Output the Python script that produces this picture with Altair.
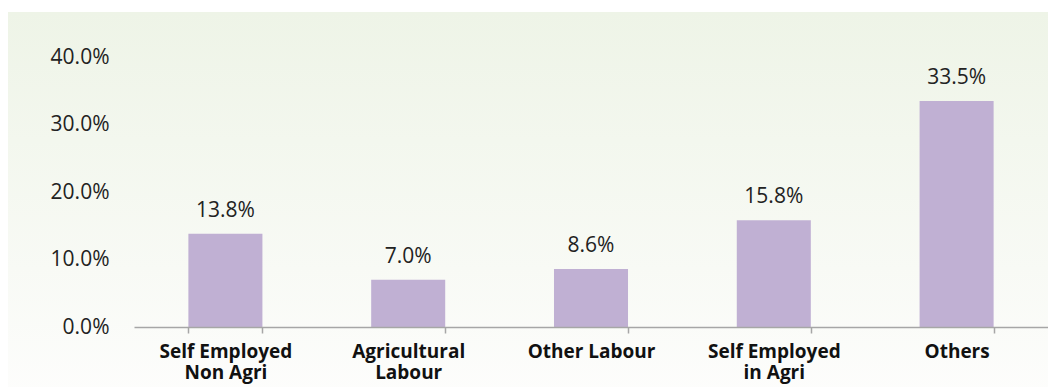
import altair as alt
import pandas as pd

categories = ["Self Employed\nNon Agri", "Agricultural\nLabour", "Other Labour", "Self Employed\nin Agri", "Others"]
shares = [13.8, 7.0, 8.6, 15.8, 33.5]
y_ticks = [0, 10, 20, 30, 40]

df = pd.DataFrame({"category": categories, "share": shares})
df["label"] = [f"{v:.1f}%" for v in shares]

FONT = "Open Sans"
W, H = 914, 270

bg = alt.Chart(pd.DataFrame({"a": [0]})).mark_rect(
    clip=False,
    color=alt.Gradient(
        gradient="linear", x1=0, y1=0, x2=0, y2=1,
        stops=[alt.GradientStop(color="#eef4e7", offset=0),
               alt.GradientStop(color="#fdfdfc", offset=1)],
    ),
).encode(x=alt.value(-127), x2=alt.value(W + 2), y=alt.value(-45), y2=alt.value(H + 70))

x_enc = alt.X("category:N", sort=categories, title=None,
              scale=alt.Scale(paddingInner=0.595, paddingOuter=0.2975),
              axis=alt.Axis(labelAngle=0, labelFont=FONT, labelFontSize=19, labelFontWeight="bold",
                            labelColor="#111111", labelExpr="split(datum.label, '\\n')",
                            labelLineHeight=21, labelBaseline="top", labelPadding=9,
                            tickBand="extent", tickSize=6, tickColor="#a6a6a6",
                            domainColor="#a6a6a6", domainWidth=1.5, tickWidth=1.5, zindex=1))
y_enc = alt.Y("share:Q", title=None,
              scale=alt.Scale(domain=[0, 40], nice=False),
              axis=alt.Axis(values=y_ticks, labelExpr="format(datum.value, '.1f') + '%'",
                            labelFont=FONT, labelFontSize=21, labelColor="#222222",
                            labelPadding=25, ticks=False, domain=False, grid=False, zindex=1))

bars = alt.Chart(df).mark_bar(color="#c0b0d3").encode(x=x_enc, y=y_enc)
text = alt.Chart(df).mark_text(font=FONT, fontSize=21, color="#222222", baseline="alphabetic", dy=-17).encode(
    x=alt.X("category:N", sort=categories), y="share:Q", text="label:N")

chart = alt.layer(bg, bars, text).properties(
    width=W, height=H,
    autosize=alt.AutoSizeParams(type="none"),
    padding={"left": 126, "top": 49, "right": 0, "bottom": 60},
    background="#ffffff",
).configure_view(stroke=None)

chart.save("out.html", embed_options={"renderer": "svg", "actions": False})
